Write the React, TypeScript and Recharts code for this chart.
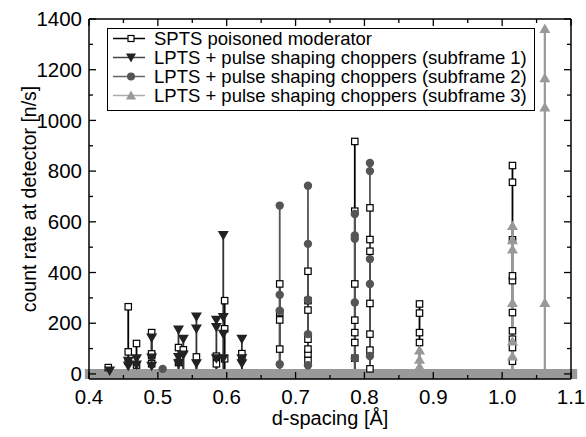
import { LineChart, Line, XAxis, YAxis, ReferenceLine, Legend } from "recharts";

const FONT = "'Liberation Sans', Arial, Helvetica, sans-serif";

const xTicks = [0.4, 0.45, 0.5, 0.55, 0.6, 0.65, 0.7, 0.75, 0.8, 0.85, 0.9, 0.95, 1.0, 1.05, 1.1];
const yTicks = [0, 100, 200, 300, 400, 500, 600, 700, 800, 900, 1000, 1100, 1200, 1300, 1400];

// [d-spacing, count rates measured at that d]
const spts: [number, number[]][] = [
  [0.428, [25]],
  [0.457, [50, 87, 265]],
  [0.469, [35, 120]],
  [0.491, [40, 72, 79, 163]],
  [0.53, [45, 104]],
  [0.537, [95]],
  [0.556, [67]],
  [0.585, [40, 70]],
  [0.597, [60, 178, 289]],
  [0.622, [65, 80]],
  [0.677, [98, 213, 242, 355]],
  [0.718, [53, 79, 98, 137, 252, 289, 405]],
  [0.786, [62, 124, 163, 212, 355, 642, 917]],
  [0.808, [20, 94, 157, 278, 484, 530, 655]],
  [0.88, [124, 163, 240, 276]],
  [1.015, [50, 104, 137, 170, 242, 368, 387, 529, 756, 822]],
];

const sub1: [number, number[]][] = [
  [0.43, [12]],
  [0.457, [30, 50]],
  [0.469, [35, 60]],
  [0.491, [30, 63, 142]],
  [0.53, [40, 65, 173]],
  [0.537, [75, 137]],
  [0.556, [40, 177, 225]],
  [0.585, [60, 183, 212]],
  [0.595, [60, 157, 223, 546]],
  [0.622, [40, 60, 137]],
];

const sub2: [number, number[]][] = [
  [0.507, [20]],
  [0.677, [38, 249, 312, 664]],
  [0.718, [34, 157, 293, 513, 742]],
  [0.786, [62, 282, 533, 546, 631]],
  [0.808, [71, 355, 453, 800, 832]],
];

const sub3: [number, number[]][] = [
  [0.88, [30, 58, 94]],
  [1.015, [71, 130, 282, 493, 529, 585]],
  [1.062, [282, 1053, 1168, 1363]],
];

// each peak becomes a vertical stem, broken from the next by a null
const stems = (peaks: [number, number[]][]) =>
  peaks.flatMap(([d, vals]) => [
    { d, v: 0 },
    ...vals.map((v) => ({ d, v })),
    { d, v: null },
  ]);

const Square = (p: any) => {
  if (!p.payload || !p.payload.v) return <g key={`s-${p.index}`} />;
  return (
    <rect key={`s-${p.index}`} x={p.cx - 3.2} y={p.cy - 3.2} width={6.4} height={6.4} fill="#fff" stroke="#000" strokeWidth={1.2} />
  );
};

const TriDown = (p: any) => {
  if (!p.payload || !p.payload.v) return <g key={`t-${p.index}`} />;
  const { cx, cy } = p;
  return <path key={`t-${p.index}`} d={`M${cx - 5.5},${cy - 4.5} L${cx + 5.5},${cy - 4.5} L${cx},${cy + 5} Z`} fill="#222" />;
};

const Dot = (p: any) => {
  if (!p.payload || !p.payload.v) return <g key={`c-${p.index}`} />;
  return <circle key={`c-${p.index}`} cx={p.cx} cy={p.cy} r={4.2} fill="#555" />;
};

const TriUp = (p: any) => {
  if (!p.payload || !p.payload.v) return <g key={`u-${p.index}`} />;
  const { cx, cy } = p;
  return <path key={`u-${p.index}`} d={`M${cx - 5.5},${cy + 4.5} L${cx + 5.5},${cy + 4.5} L${cx},${cy - 5} Z`} fill="#999" />;
};

const isMajorX = (v: number) => Math.abs(v * 10 - Math.round(v * 10)) < 1e-6;
const isMajorY = (v: number) => v % 200 === 0;

const BottomTick = ({ x, y, payload }: any) => {
  const major = isMajorX(payload.value);
  return (
    <g>
      <line x1={x} y1={y} x2={x} y2={y - (major ? 7 : 4)} stroke="#000" strokeWidth={1.3} />
      {major && (
        <text x={x} y={y + 18} dy="0.35em" textAnchor="middle" fontSize={20.5} fontFamily={FONT} fill="#000">
          {payload.value.toFixed(1)}
        </text>
      )}
    </g>
  );
};

const TopTick = ({ x, y, payload }: any) => {
  const major = isMajorX(payload.value);
  return <line x1={x} y1={y} x2={x} y2={y + (major ? 7 : 4)} stroke="#000" strokeWidth={1.3} />;
};

const LeftTick = ({ x, y, payload }: any) => {
  const major = isMajorY(payload.value);
  return (
    <g>
      <line x1={x} y1={y} x2={x + (major ? 7 : 4)} y2={y} stroke="#000" strokeWidth={1.3} />
      {major && (
        <text x={x - 7} y={y} dy="0.35em" textAnchor="end" fontSize={20.5} fontFamily={FONT} fill="#000">
          {payload.value}
        </text>
      )}
    </g>
  );
};

const RightTick = ({ x, y, payload }: any) => {
  const major = isMajorY(payload.value);
  return <line x1={x} y1={y} x2={x - (major ? 7 : 4)} y2={y} stroke="#000" strokeWidth={1.3} />;
};

const legendItems = [
  { name: "SPTS poisoned moderator", line: "#000", marker: "square" },
  { name: "LPTS + pulse shaping choppers (subframe 1)", line: "#444", marker: "down" },
  { name: "LPTS + pulse shaping choppers (subframe 2)", line: "#666", marker: "circle" },
  { name: "LPTS + pulse shaping choppers (subframe 3)", line: "#aaa", marker: "up" },
];

const LegendMarker = ({ kind }: { kind: string }) => {
  const cx = 23;
  const cy = 9.5;
  if (kind === "square") return <rect x={cx - 3} y={cy - 3} width={6} height={6} fill="#fff" stroke="#000" strokeWidth={1.2} />;
  if (kind === "down") return <path d={`M${cx - 5},${cy - 4} L${cx + 5},${cy - 4} L${cx},${cy + 5} Z`} fill="#222" />;
  if (kind === "circle") return <circle cx={cx} cy={cy} r={4} fill="#555" />;
  return <path d={`M${cx - 5},${cy + 4} L${cx + 5},${cy + 4} L${cx},${cy - 5} Z`} fill="#999" />;
};

const LegendBox = () => (
  <div
    style={{
      border: "1px solid #000",
      background: "#fff",
      width: 428,
      height: 83,
      boxSizing: "border-box",
      paddingTop: 0,
      fontFamily: FONT,
      fontSize: 18.5,
      color: "#000",
    }}
  >
    {legendItems.map((it) => (
      <div key={it.name} style={{ display: "flex", alignItems: "center", height: 19 }}>
        <svg width={46} height={19} style={{ flex: "none" }}>
          <line x1={5} y1={9.5} x2={37} y2={9.5} stroke={it.line} strokeWidth={1.5} />
          <LegendMarker kind={it.marker} />
        </svg>
        <span style={{ whiteSpace: "nowrap", lineHeight: "19px" }}>{it.name}</span>
      </div>
    ))}
  </div>
);

export default function App() {
  return (
    <div style={{ position: "absolute", left: 0, top: 0, width: 586, height: 437, background: "#fff" }}>
      <LineChart width={586} height={437} margin={{ top: 18, right: 14, bottom: 18, left: 39 }}>
        <XAxis
          dataKey="d"
          type="number"
          domain={[0.4, 1.1]}
          ticks={xTicks}
          interval={0}
          allowDataOverflow
          tick={(p: any) => <BottomTick {...p} />}
          tickLine={false}
          tickSize={0}
          tickMargin={0}
          axisLine={{ stroke: "#000", strokeWidth: 1.5 }}
          height={40}
          label={{ value: "d-spacing [Å]", position: "bottom", offset: -8, fontSize: 20, fontFamily: FONT, fill: "#000" }}
        />
        <XAxis
          xAxisId="top"
          orientation="top"
          dataKey="d"
          type="number"
          domain={[0.4, 1.1]}
          ticks={xTicks}
          interval={0}
          allowDataOverflow
          tick={(p: any) => <TopTick {...p} />}
          tickLine={false}
          tickSize={0}
          tickMargin={0}
          axisLine={{ stroke: "#000", strokeWidth: 1.5 }}
          height={1}
        />
        <YAxis
          type="number"
          domain={[-20, 1400]}
          ticks={yTicks}
          interval={0}
          allowDataOverflow
          tick={(p: any) => <LeftTick {...p} />}
          tickLine={false}
          tickSize={0}
          tickMargin={0}
          axisLine={{ stroke: "#000", strokeWidth: 1.5 }}
          width={50}
          label={{
            value: "count rate at detector [n/s]",
            angle: -90,
            position: "left",
            offset: 10,
            fontSize: 19.5,
            fontFamily: FONT,
            fill: "#000",
            style: { textAnchor: "middle" },
          }}
        />
        <YAxis
          yAxisId="right"
          orientation="right"
          type="number"
          domain={[-20, 1400]}
          ticks={yTicks}
          interval={0}
          allowDataOverflow
          tick={(p: any) => <RightTick {...p} />}
          tickLine={false}
          tickSize={0}
          tickMargin={0}
          axisLine={{ stroke: "#000", strokeWidth: 1.5 }}
          width={1}
        />
        <Line
          data={stems(spts)}
          dataKey="v"
          type="linear"
          stroke="#000"
          strokeWidth={1.8}
          dot={Square}
          activeDot={false}
          connectNulls={false}
          isAnimationActive={false}
        />
        <Line
          data={stems(sub1)}
          dataKey="v"
          type="linear"
          stroke="#333"
          strokeWidth={1.8}
          dot={TriDown}
          activeDot={false}
          connectNulls={false}
          isAnimationActive={false}
        />
        <Line
          data={stems(sub2)}
          dataKey="v"
          type="linear"
          stroke="#555"
          strokeWidth={1.8}
          dot={Dot}
          activeDot={false}
          connectNulls={false}
          isAnimationActive={false}
        />
        <Line
          data={stems(sub3)}
          dataKey="v"
          type="linear"
          stroke="#999"
          strokeWidth={2.2}
          dot={TriUp}
          activeDot={false}
          connectNulls={false}
          isAnimationActive={false}
        />
        <ReferenceLine
          segment={[
            { x: 0.394, y: 0 },
            { x: 1.109, y: 0 },
          ]}
          ifOverflow="visible"
          stroke="#999"
          strokeWidth={10}
        />
        <Legend
          layout="vertical"
          verticalAlign="middle"
          align="center"
          content={() => <LegendBox />}
          wrapperStyle={{ left: 107, top: 28, width: 428, height: 83 }}
        />
      </LineChart>
    </div>
  );
}
